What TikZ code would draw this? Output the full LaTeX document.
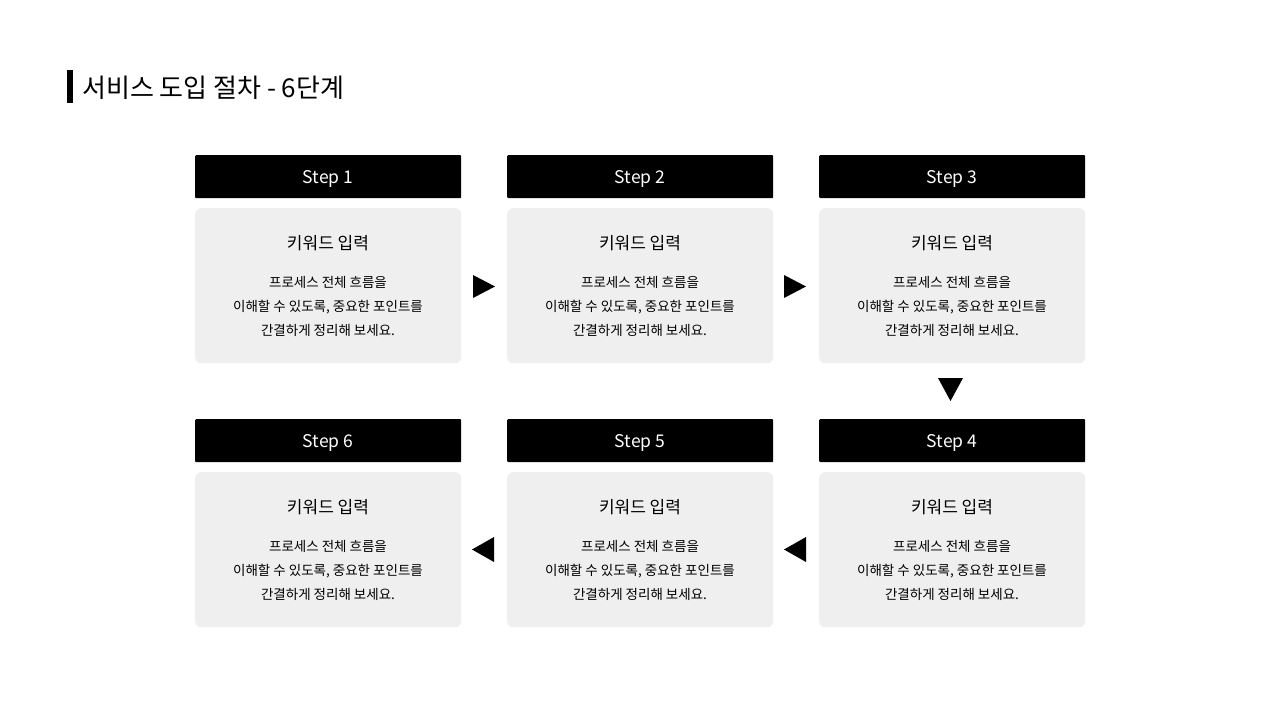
\documentclass[tikz,border=0pt]{standalone}
\usepackage{fontspec}
\setmainfont{Noto Sans CJK KR}
\definecolor{cardgray}{HTML}{EFEFEF}
\tikzset{
  x=1pt, y=-1pt,
  hdr/.style={fill=black, minimum width=266pt, minimum height=43pt, inner sep=0pt, rounded corners=1pt},
  hdrtext/.style={text=white, font=\fontsize{17.5}{20}\selectfont},
  card/.style={fill=cardgray, minimum width=266pt, minimum height=155pt, inner sep=0pt, rounded corners=6pt},
  cardtitle/.style={font=\fontsize{17}{20}\selectfont, text=black},
  cardbody/.style={font=\fontsize{13.5}{24}\selectfont, align=center, text=black},
  tri/.style={fill=black}
}
\begin{document}
\begin{tikzpicture}
\useasboundingbox[fill=white] (0,0) rectangle (1280,720);
% title
\fill (67,70) rectangle (73,103);
\node[anchor=west, font=\fontsize{26}{30}\selectfont, inner sep=0pt] (title) at (82,88) {서비스 도입 절차 - 6단계};
% cards
\foreach \i/\x/\y in {1/195/155, 2/507/155, 3/819/155, 6/195/419, 5/507/419, 4/819/419}{
  \node[hdr, anchor=north west] (h\i) at (\x,\y) {};
  \node[hdrtext] (s\i) at (\x+133,\y+24) {Step \i};
  \node[card, anchor=north west] (c\i) at (\x,\y+53) {};
  \node[cardtitle] (t\i) at (\x+133,\y+88) {키워드 입력};
  \node[cardbody] (b\i) at (\x+133,\y+151) {프로세스 전체 흐름을\\이해할 수 있도록, 중요한 포인트를\\간결하게 정리해 보세요.};
}
% arrows
\fill[tri] (473,275) -- (495,286.5) -- (473,298) -- cycle;
\fill[tri] (784,275) -- (806,286.5) -- (784,298) -- cycle;
\fill[tri] (938,378) -- (963,378) -- (950.5,401) -- cycle;
\fill[tri] (806,537) -- (784,549.5) -- (806,562) -- cycle;
\fill[tri] (494,537) -- (472,549.5) -- (494,562) -- cycle;
\end{tikzpicture}
\end{document}
